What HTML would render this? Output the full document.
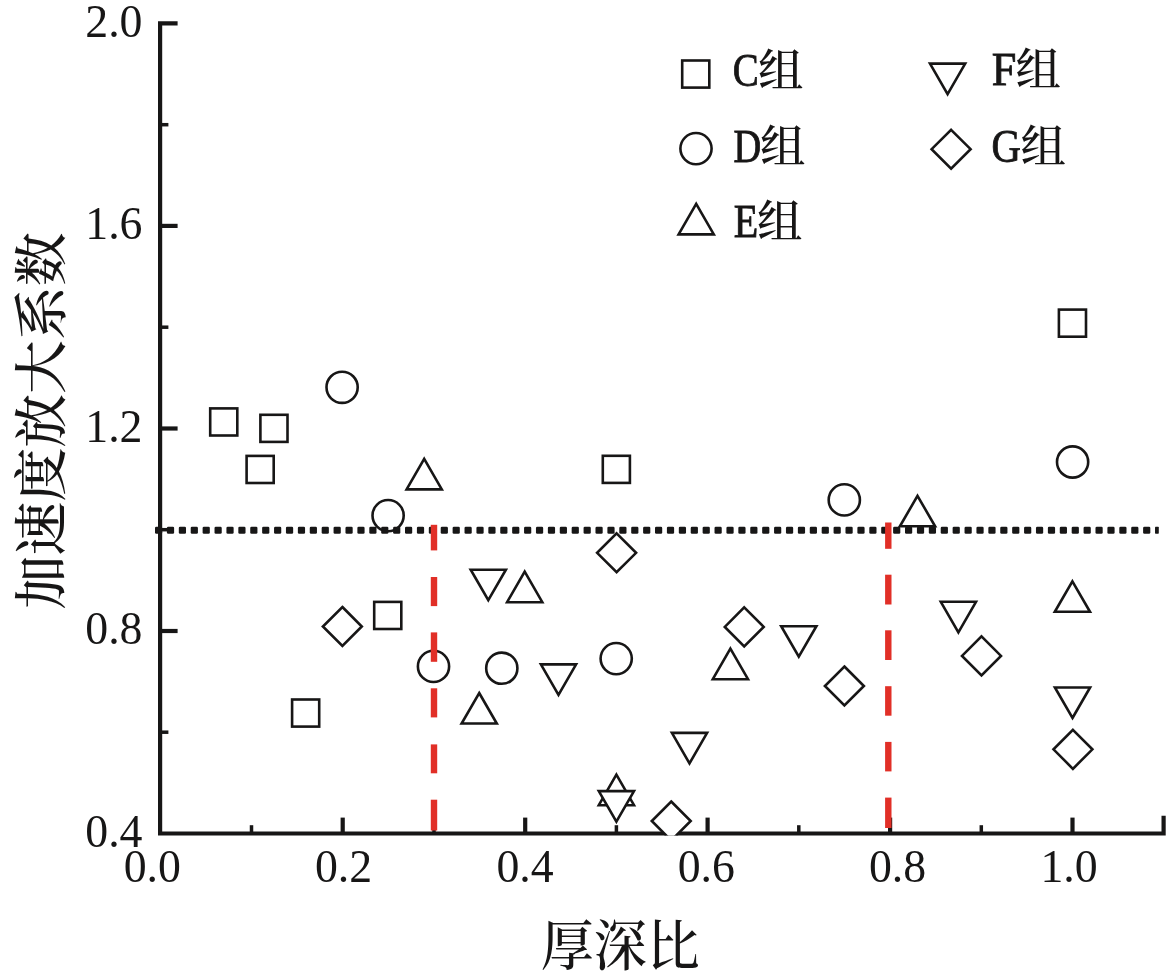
<!DOCTYPE html>
<html lang="zh"><head><meta charset="utf-8"><title>加速度放大系数 - 厚深比</title>
<style>html,body{margin:0;padding:0;background:#fff}svg{display:block}.n{font-family:"Liberation Serif","Noto Serif CJK SC",serif;font-size:45.8px;fill:#171616}.t{font-family:"Liberation Serif","Noto Serif CJK SC",serif;font-weight:500;fill:#171616}.lb{font-family:"Liberation Serif","Noto Serif CJK SC",serif;font-weight:normal;stroke:#171616;stroke-width:0.9px;fill:#171616}.lc{font-family:"Liberation Serif","Noto Serif CJK SC",serif;font-weight:500;fill:#171616}.m{fill:#fff;stroke:#171616;stroke-width:2.6;stroke-linejoin:miter}</style></head><body>
<svg width="1175" height="977" viewBox="0 0 1175 977">
<rect width="1175" height="977" fill="#fff"/>
<defs><clipPath id="pc"><rect x="150" y="0" width="1025" height="835.5"/></clipPath></defs>
<g stroke="#171616" stroke-width="4.2" fill="none" stroke-linecap="butt">
<path d="M177.6 23.4 H160.1 V833.5 H1163.6 V815.7"/>
<path d="M160.3 225.9 H177.6"/>
<path d="M160.3 428.5 H177.6"/>
<path d="M160.3 631.0 H177.6"/>
<path stroke-width="3.5" d="M160.3 124.7 H168.4"/>
<path stroke-width="3.5" d="M160.3 327.2 H168.4"/>
<path stroke-width="3.5" d="M160.3 529.7 H168.4"/>
<path stroke-width="3.5" d="M160.3 732.2 H168.4"/>
<path d="M342.7 833.5 V817.6"/>
<path d="M525.2 833.5 V817.6"/>
<path d="M707.6 833.5 V817.6"/>
<path d="M890.1 833.5 V817.6"/>
<path d="M1072.5 833.5 V817.6"/>
<path stroke-width="3.5" d="M251.5 833.5 V825.2"/>
<path stroke-width="3.5" d="M434.0 833.5 V825.2"/>
<path stroke-width="3.5" d="M616.4 833.5 V825.2"/>
<path stroke-width="3.5" d="M798.8 833.5 V825.2"/>
<path stroke-width="3.5" d="M981.3 833.5 V825.2"/>
</g>
<text class="n" x="142.5" y="36.7" text-anchor="end">2.0</text>
<text class="n" x="142.5" y="239.2" text-anchor="end">1.6</text>
<text class="n" x="142.5" y="441.8" text-anchor="end">1.2</text>
<text class="n" x="142.5" y="644.3" text-anchor="end">0.8</text>
<text class="n" x="142.5" y="846.8" text-anchor="end">0.4</text>
<text class="n" x="152.3" y="882.0" text-anchor="middle">0.0</text>
<text class="n" x="343.5" y="882.0" text-anchor="middle">0.2</text>
<text class="n" x="525.0" y="882.0" text-anchor="middle">0.4</text>
<text class="n" x="706.3" y="882.0" text-anchor="middle">0.6</text>
<text class="n" x="897.6" y="882.0" text-anchor="middle">0.8</text>
<text class="n" x="1069.0" y="882.0" text-anchor="middle">1.0</text>
<text class="t" font-size="53" text-anchor="middle" transform="translate(620.2,964.5) scale(1,1.03)">厚深比</text>
<text class="t" font-size="53" text-anchor="middle" transform="translate(60.5,420.8) rotate(-90) scale(1.016,1.02)">加速度放大系数</text>
<g clip-path="url(#pc)">
<rect class="m" x="210.2" y="408.4" width="27.1" height="27.1"/>
<rect class="m" x="260.4" y="414.8" width="27.1" height="27.1"/>
<rect class="m" x="246.6" y="455.9" width="27.1" height="27.1"/>
<rect class="m" x="292.1" y="699.5" width="27.1" height="27.1"/>
<rect class="m" x="374.2" y="601.9" width="27.1" height="27.1"/>
<rect class="m" x="602.8" y="455.8" width="27.1" height="27.1"/>
<rect class="m" x="1058.9" y="309.6" width="27.1" height="27.1"/>
<circle class="m" cx="342.1" cy="387.3" r="15.6"/>
<circle class="m" cx="388.1" cy="515.6" r="15.6"/>
<circle class="m" cx="433.5" cy="666.4" r="15.6"/>
<circle class="m" cx="501.8" cy="668.2" r="15.6"/>
<circle class="m" cx="616.2" cy="658.6" r="15.6"/>
<circle class="m" cx="844.3" cy="499.9" r="15.6"/>
<circle class="m" cx="1072.6" cy="462.0" r="15.6"/>
<path class="m" d="M424.2 458.9 L441.8 489.4 L406.6 489.4 Z"/>
<path class="m" d="M479.2 693.0 L496.8 723.5 L461.6 723.5 Z"/>
<path class="m" d="M524.7 571.7 L542.3 602.2 L507.1 602.2 Z"/>
<path class="m" d="M616.4 774.7 L634.0 805.2 L598.8 805.2 Z"/>
<path class="m" d="M730.4 648.7 L748.0 679.2 L712.8 679.2 Z"/>
<path class="m" d="M917.5 495.8 L935.1 526.3 L899.9 526.3 Z"/>
<path class="m" d="M1072.4 581.3 L1090.0 611.8 L1054.8 611.8 Z"/>
<path class="m" d="M488.3 600.2 L505.9 569.7 L470.7 569.7 Z"/>
<path class="m" d="M558.5 694.9 L576.1 664.4 L540.9 664.4 Z"/>
<path class="m" d="M616.4 821.6 L634.0 791.1 L598.8 791.1 Z"/>
<path class="m" d="M689.5 763.4 L707.1 732.9 L671.9 732.9 Z"/>
<path class="m" d="M798.8 656.7 L816.4 626.2 L781.2 626.2 Z"/>
<path class="m" d="M958.4 632.3 L976.0 601.8 L940.8 601.8 Z"/>
<path class="m" d="M1072.5 718.0 L1090.1 687.5 L1054.9 687.5 Z"/>
<path class="m" d="M342.4 607.0 L361.8 626.5 L342.4 646.0 L322.9 626.5 Z"/>
<path class="m" d="M616.6 533.3 L636.1 552.8 L616.6 572.2 L597.1 552.8 Z"/>
<path class="m" d="M671.2 801.5 L690.7 821.0 L671.2 840.5 L651.8 821.0 Z"/>
<path class="m" d="M744.2 607.4 L763.7 626.9 L744.2 646.4 L724.8 626.9 Z"/>
<path class="m" d="M844.4 666.5 L863.9 686.0 L844.4 705.5 L824.9 686.0 Z"/>
<path class="m" d="M981.5 636.4 L1001.0 655.9 L981.5 675.4 L962.0 655.9 Z"/>
<path class="m" d="M1072.9 729.8 L1092.4 749.3 L1072.9 768.8 L1053.5 749.3 Z"/>
</g>
<g fill="#171616">
<rect x="155.00" y="526.7" width="7.20" height="7.0" rx="1.3"/>
<rect x="166.91" y="526.7" width="7.20" height="7.0" rx="1.3"/>
<rect x="178.81" y="526.7" width="7.20" height="7.0" rx="1.3"/>
<rect x="190.72" y="526.7" width="7.20" height="7.0" rx="1.3"/>
<rect x="202.62" y="526.7" width="7.20" height="7.0" rx="1.3"/>
<rect x="214.53" y="526.7" width="7.20" height="7.0" rx="1.3"/>
<rect x="226.43" y="526.7" width="7.20" height="7.0" rx="1.3"/>
<rect x="238.33" y="526.7" width="7.20" height="7.0" rx="1.3"/>
<rect x="250.24" y="526.7" width="7.20" height="7.0" rx="1.3"/>
<rect x="262.14" y="526.7" width="7.20" height="7.0" rx="1.3"/>
<rect x="274.05" y="526.7" width="7.20" height="7.0" rx="1.3"/>
<rect x="285.95" y="526.7" width="7.20" height="7.0" rx="1.3"/>
<rect x="297.86" y="526.7" width="7.20" height="7.0" rx="1.3"/>
<rect x="309.76" y="526.7" width="7.20" height="7.0" rx="1.3"/>
<rect x="321.67" y="526.7" width="7.20" height="7.0" rx="1.3"/>
<rect x="333.57" y="526.7" width="7.20" height="7.0" rx="1.3"/>
<rect x="345.48" y="526.7" width="7.20" height="7.0" rx="1.3"/>
<rect x="357.38" y="526.7" width="7.20" height="7.0" rx="1.3"/>
<rect x="369.29" y="526.7" width="7.20" height="7.0" rx="1.3"/>
<rect x="381.19" y="526.7" width="7.20" height="7.0" rx="1.3"/>
<rect x="393.10" y="526.7" width="7.20" height="7.0" rx="1.3"/>
<rect x="405.00" y="526.7" width="7.20" height="7.0" rx="1.3"/>
<rect x="416.91" y="526.7" width="7.20" height="7.0" rx="1.3"/>
<rect x="428.81" y="526.7" width="7.20" height="7.0" rx="1.3"/>
<rect x="440.72" y="526.7" width="7.20" height="7.0" rx="1.3"/>
<rect x="452.62" y="526.7" width="7.20" height="7.0" rx="1.3"/>
<rect x="464.53" y="526.7" width="7.20" height="7.0" rx="1.3"/>
<rect x="476.44" y="526.7" width="7.20" height="7.0" rx="1.3"/>
<rect x="488.34" y="526.7" width="7.20" height="7.0" rx="1.3"/>
<rect x="500.25" y="526.7" width="7.20" height="7.0" rx="1.3"/>
<rect x="512.15" y="526.7" width="7.20" height="7.0" rx="1.3"/>
<rect x="524.06" y="526.7" width="7.20" height="7.0" rx="1.3"/>
<rect x="535.96" y="526.7" width="7.20" height="7.0" rx="1.3"/>
<rect x="547.87" y="526.7" width="7.20" height="7.0" rx="1.3"/>
<rect x="559.77" y="526.7" width="7.20" height="7.0" rx="1.3"/>
<rect x="571.67" y="526.7" width="7.20" height="7.0" rx="1.3"/>
<rect x="583.58" y="526.7" width="7.20" height="7.0" rx="1.3"/>
<rect x="595.48" y="526.7" width="7.20" height="7.0" rx="1.3"/>
<rect x="607.39" y="526.7" width="7.20" height="7.0" rx="1.3"/>
<rect x="619.29" y="526.7" width="7.20" height="7.0" rx="1.3"/>
<rect x="631.20" y="526.7" width="7.20" height="7.0" rx="1.3"/>
<rect x="643.11" y="526.7" width="7.20" height="7.0" rx="1.3"/>
<rect x="655.01" y="526.7" width="7.20" height="7.0" rx="1.3"/>
<rect x="666.91" y="526.7" width="7.20" height="7.0" rx="1.3"/>
<rect x="678.82" y="526.7" width="7.20" height="7.0" rx="1.3"/>
<rect x="690.73" y="526.7" width="7.20" height="7.0" rx="1.3"/>
<rect x="702.63" y="526.7" width="7.20" height="7.0" rx="1.3"/>
<rect x="714.53" y="526.7" width="7.20" height="7.0" rx="1.3"/>
<rect x="726.44" y="526.7" width="7.20" height="7.0" rx="1.3"/>
<rect x="738.34" y="526.7" width="7.20" height="7.0" rx="1.3"/>
<rect x="750.25" y="526.7" width="7.20" height="7.0" rx="1.3"/>
<rect x="762.15" y="526.7" width="7.20" height="7.0" rx="1.3"/>
<rect x="774.06" y="526.7" width="7.20" height="7.0" rx="1.3"/>
<rect x="785.96" y="526.7" width="7.20" height="7.0" rx="1.3"/>
<rect x="797.87" y="526.7" width="7.20" height="7.0" rx="1.3"/>
<rect x="809.77" y="526.7" width="7.20" height="7.0" rx="1.3"/>
<rect x="821.68" y="526.7" width="7.20" height="7.0" rx="1.3"/>
<rect x="833.58" y="526.7" width="7.20" height="7.0" rx="1.3"/>
<rect x="845.49" y="526.7" width="7.20" height="7.0" rx="1.3"/>
<rect x="857.39" y="526.7" width="7.20" height="7.0" rx="1.3"/>
<rect x="869.30" y="526.7" width="7.20" height="7.0" rx="1.3"/>
<rect x="881.20" y="526.7" width="7.20" height="7.0" rx="1.3"/>
<rect x="893.11" y="526.7" width="7.20" height="7.0" rx="1.3"/>
<rect x="905.01" y="526.7" width="7.20" height="7.0" rx="1.3"/>
<rect x="916.92" y="526.7" width="7.20" height="7.0" rx="1.3"/>
<rect x="928.82" y="526.7" width="7.20" height="7.0" rx="1.3"/>
<rect x="940.73" y="526.7" width="7.20" height="7.0" rx="1.3"/>
<rect x="952.63" y="526.7" width="7.20" height="7.0" rx="1.3"/>
<rect x="964.54" y="526.7" width="7.20" height="7.0" rx="1.3"/>
<rect x="976.44" y="526.7" width="7.20" height="7.0" rx="1.3"/>
<rect x="988.35" y="526.7" width="7.20" height="7.0" rx="1.3"/>
<rect x="1000.25" y="526.7" width="7.20" height="7.0" rx="1.3"/>
<rect x="1012.16" y="526.7" width="7.20" height="7.0" rx="1.3"/>
<rect x="1024.07" y="526.7" width="7.20" height="7.0" rx="1.3"/>
<rect x="1035.97" y="526.7" width="7.20" height="7.0" rx="1.3"/>
<rect x="1047.88" y="526.7" width="7.20" height="7.0" rx="1.3"/>
<rect x="1059.78" y="526.7" width="7.20" height="7.0" rx="1.3"/>
<rect x="1071.68" y="526.7" width="7.20" height="7.0" rx="1.3"/>
<rect x="1083.59" y="526.7" width="7.20" height="7.0" rx="1.3"/>
<rect x="1095.49" y="526.7" width="7.20" height="7.0" rx="1.3"/>
<rect x="1107.40" y="526.7" width="7.20" height="7.0" rx="1.3"/>
<rect x="1119.30" y="526.7" width="7.20" height="7.0" rx="1.3"/>
<rect x="1131.21" y="526.7" width="7.20" height="7.0" rx="1.3"/>
<rect x="1143.11" y="526.7" width="7.20" height="7.0" rx="1.3"/>
<rect x="1155.02" y="526.7" width="3.78" height="7.0" rx="0.6"/>
</g>
<rect x="430.8" y="524.8" width="6.4" height="25.6" fill="#e12f27"/>
<rect x="430.8" y="577.0" width="6.4" height="29.1" fill="#e12f27"/>
<rect x="430.8" y="632.4" width="6.4" height="29.4" fill="#e12f27"/>
<rect x="430.8" y="688.3" width="6.4" height="29.1" fill="#e12f27"/>
<rect x="430.8" y="744.4" width="6.4" height="28.9" fill="#e12f27"/>
<rect x="430.8" y="799.7" width="6.4" height="30.8" fill="#e12f27"/>
<rect x="885.1" y="522.5" width="6.4" height="26.3" fill="#e12f27"/>
<rect x="885.1" y="574.7" width="6.4" height="29.8" fill="#e12f27"/>
<rect x="885.1" y="630.3" width="6.4" height="29.7" fill="#e12f27"/>
<rect x="885.1" y="686.2" width="6.4" height="29.5" fill="#e12f27"/>
<rect x="885.1" y="741.9" width="6.4" height="29.5" fill="#e12f27"/>
<rect x="885.1" y="797.6" width="6.4" height="30.4" fill="#e12f27"/>
<rect class="m" x="682.2" y="60.5" width="27.1" height="27.1"/>
<circle class="m" cx="696.0" cy="148.6" r="15.6"/>
<path class="m" d="M696.2 203.9 L713.8 234.4 L678.6 234.4 Z"/>
<path class="m" d="M947.6 94.1 L965.2 63.6 L930.0 63.6 Z"/>
<path class="m" d="M951.1 129.8 L970.6 149.2 L951.1 168.6 L931.6 149.2 Z"/>
<text class="lb" font-size="46.5" transform="translate(732.8,86.0) scale(0.836,1)">C</text>
<text class="lc" font-size="45.5" x="758.0" y="87.0">组</text>
<text class="lb" font-size="46.5" transform="translate(733.6,161.5) scale(0.825,1)">D</text>
<text class="lc" font-size="45.5" x="760.0" y="162.5">组</text>
<text class="lb" font-size="46.5" transform="translate(733.8,237.0) scale(0.861,1)">E</text>
<text class="lc" font-size="45.5" x="757.0" y="238.0">组</text>
<text class="lb" font-size="46.5" transform="translate(991.8,85.0) scale(0.950,1)">F</text>
<text class="lc" font-size="45.5" x="1015.5" y="86.0">组</text>
<text class="lb" font-size="46.5" transform="translate(991.5,161.5) scale(0.874,1)">G</text>
<text class="lc" font-size="45.5" x="1020.5" y="162.5">组</text>
</svg></body></html>
